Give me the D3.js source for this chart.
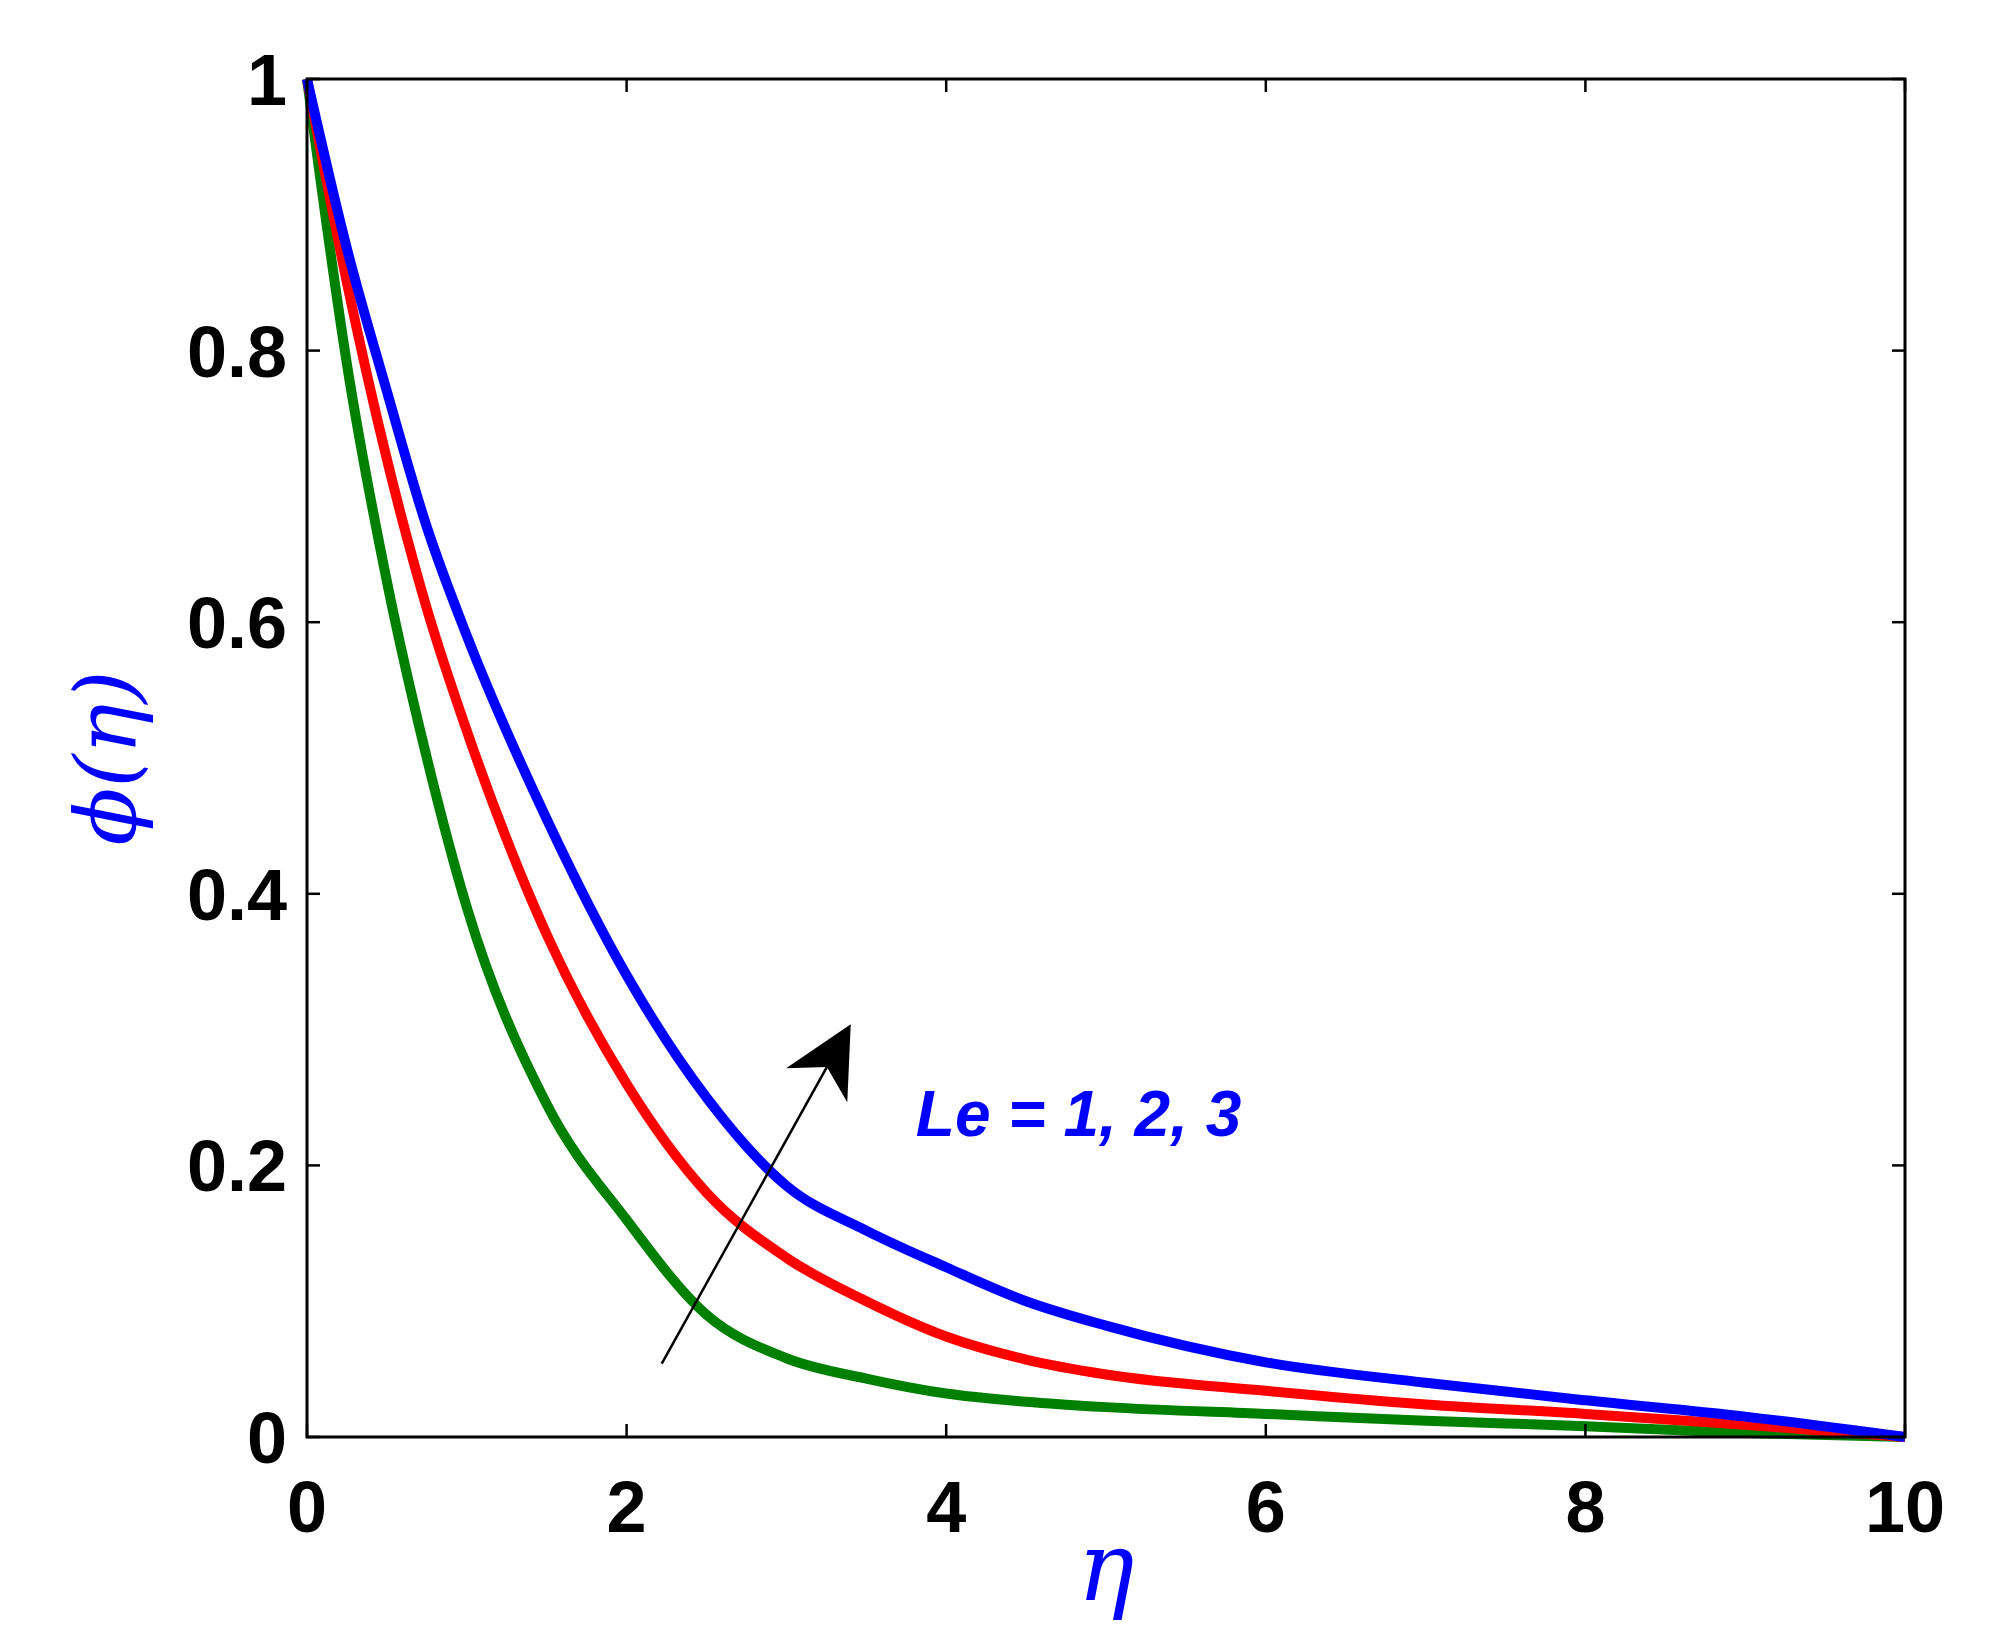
<!DOCTYPE html><html><head><meta charset="utf-8">
<script src="https://d3js.org/d3.v7.min.js"></script>
<style>body{margin:0;background:#fff}</style></head><body>
<svg id="c" width="1991" height="1639"></svg>
<script>
const eta = [0,0.25,0.5,0.75,1,1.5,2,2.5,3,3.5,4,4.5,5,6,7,8,9,10];
const le1 = [1,0.875,0.77,0.67,0.59,0.455,0.34,0.25,0.185,0.152,0.125,0.1,0.082,0.055,0.04,0.027,0.015,0];
const le2 = [1,0.85,0.72,0.61,0.52,0.37,0.26,0.18,0.132,0.1,0.074,0.057,0.046,0.034,0.024,0.017,0.009,0];
const le3 = [1,0.79,0.63,0.50,0.39,0.245,0.16,0.09,0.058,0.043,0.032,0.026,0.022,0.017,0.012,0.008,0.003,0];
const xTicks = [0,2,4,6,8,10];
const yTicks = [0,0.2,0.4,0.6,0.8,1];
const yTickLabels = ["0","0.2","0.4","0.6","0.8","1"];
const series = [{v:le3,c:"#008000"},{v:le2,c:"#ff0000"},{v:le1,c:"#0000ff"}];

const L=307,R=1905,T=79,B=1437;
const svg=d3.select("#c");
const x=d3.scaleLinear().domain([0,10]).range([L,R]);
const y=d3.scaleLinear().domain([0,1]).range([B,T]);
const font="Arial, 'Liberation Sans', sans-serif";

const line=d3.line().x((d,i)=>x(eta[i])).y(d=>y(d)).curve(d3.curveMonotoneX);
series.forEach(s=>svg.append("path").attr("d",line(s.v)).attr("fill","none")
  .attr("stroke",s.c).attr("stroke-width",10));

svg.append("rect").attr("x",L).attr("y",T).attr("width",R-L).attr("height",B-T)
  .attr("fill","none").attr("stroke","#000").attr("stroke-width",3);

const tl=13;
xTicks.forEach(t=>{
  svg.append("line").attr("x1",x(t)).attr("x2",x(t)).attr("y1",B).attr("y2",B-tl).attr("stroke","#000").attr("stroke-width",2.5);
  svg.append("line").attr("x1",x(t)).attr("x2",x(t)).attr("y1",T).attr("y2",T+tl).attr("stroke","#000").attr("stroke-width",2.5);
  svg.append("text").attr("x",x(t)).attr("y",B+95).attr("text-anchor","middle")
    .attr("font-family",font).attr("font-weight","bold").attr("font-size",72).text(t);
});
yTicks.forEach((t,i)=>{
  svg.append("line").attr("y1",y(t)).attr("y2",y(t)).attr("x1",L).attr("x2",L+tl).attr("stroke","#000").attr("stroke-width",2.5);
  svg.append("line").attr("y1",y(t)).attr("y2",y(t)).attr("x1",R).attr("x2",R-tl).attr("stroke","#000").attr("stroke-width",2.5);
  svg.append("text").attr("x",L-20).attr("y",y(t)+26).attr("text-anchor","end")
    .attr("font-family",font).attr("font-weight","bold").attr("font-size",72).text(yTickLabels[i]);
});

svg.append("text").attr("x",(L+R)/2).attr("y",1600).attr("text-anchor","middle")
  .attr("font-family","'DejaVu Serif', serif").attr("font-style","italic").attr("font-size",95)
  .attr("fill","#0000ff").text("η");
svg.append("text").attr("transform",`translate(135,${(T+B)/2}) rotate(-90)`).attr("text-anchor","middle")
  .attr("font-family","'DejaVu Serif', serif").attr("font-style","italic").attr("font-size",85)
  .attr("fill","#0000ff").text("ϕ(η)");

svg.append("defs").append("marker").attr("id","ah").attr("viewBox","0 0 10 10").attr("refX",8).attr("refY",5)
  .attr("markerWidth",70).attr("markerHeight",70).attr("markerUnits","userSpaceOnUse").attr("orient","auto")
  .append("path").attr("d","M0,0 L10,5 L0,10 L3,5 Z").attr("fill","#000");
svg.append("line").attr("x1",x(2.22)).attr("y1",y(0.054)).attr("x2",x(3.36)).attr("y2",y(0.295))
  .attr("stroke","#000").attr("stroke-width",2.5).attr("marker-end","url(#ah)");
svg.append("text").attr("x",x(3.81)).attr("y",y(0.222)).attr("font-family",font).attr("font-weight","bold")
  .attr("font-style","italic").attr("font-size",64).attr("fill","#0000ff").text("Le = 1, 2, 3");
</script></body></html>
